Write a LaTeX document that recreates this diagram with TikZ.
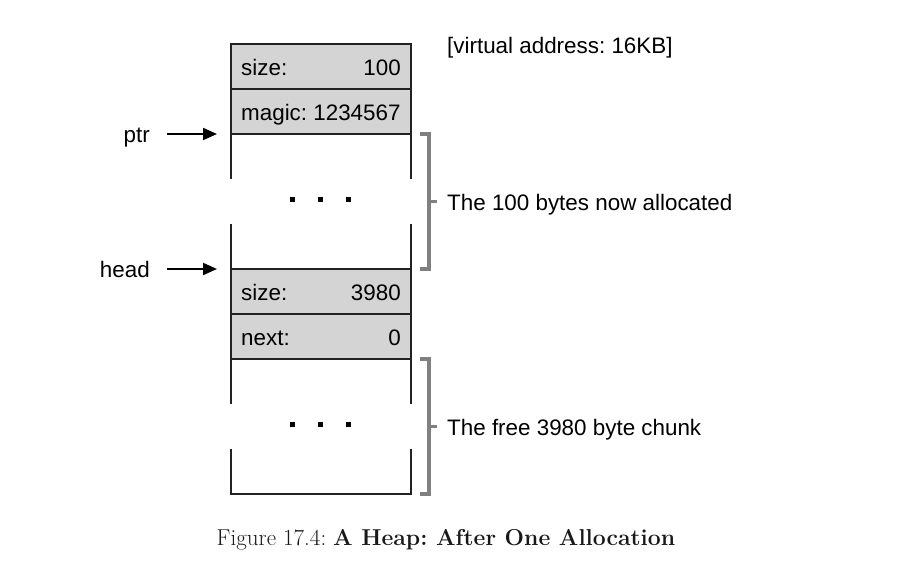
\documentclass[tikz,border=0pt]{standalone}
\usepackage{fontspec}
\setsansfont{Liberation Sans}
\usetikzlibrary{arrows.meta}
\definecolor{cellgray}{HTML}{D4D4D4}
\definecolor{brackgray}{HTML}{808080}
\definecolor{edgegray}{HTML}{222222}
\begin{document}
\frenchspacing
\begin{tikzpicture}[x=1pt,y=-1pt,
  lbl/.style={font=\sffamily\fontsize{22.4}{26}\selectfont\frenchspacing, inner sep=0pt},
  cell/.style={draw=edgegray, line width=1.1pt, fill=cellgray, minimum width=180pt, minimum height=45pt,
     inner sep=0pt, outer sep=0pt, anchor=north west},
  wall/.style={draw=edgegray, line width=1.1pt},
  brace/.style={draw=brackgray, line width=4pt},
  pointer/.style={line width=2pt, -{Triangle[length=14pt,width=12pt]}},
  dot/.style={fill=black, minimum size=5pt, inner sep=0pt, rectangle}
]
\useasboundingbox (0,0) rectangle (906,584);
% top chunk header
\node[cell] (r1) at (231,44) {};
\node[cell] (r2) at (231,89) {};
\node[lbl, anchor=base west] (r1l) at (241,75) {size:};
\node[lbl, anchor=base east] (r1r) at (401,75) {100};
\node[lbl, anchor=base west] (r2l) at (241,120) {magic: 1234567};
% allocated region walls
\coordinate (a1) at (231,179);
\coordinate (a2) at (411,179);
\coordinate (a3) at (231,224);
\coordinate (a4) at (411,224);
% free chunk header
\node[cell] (r3) at (231,269) {};
\node[cell] (r4) at (231,314) {};
\node[lbl, anchor=base west] (r3l) at (241,300) {size:};
\node[lbl, anchor=base east] (r3r) at (401,300) {3980};
\node[lbl, anchor=base west] (r4l) at (241,345) {next:};
\node[lbl, anchor=base east] (r4r) at (401,345) {0};
\coordinate (f1) at (231,404);
\coordinate (f2) at (411,404);
\coordinate (f3) at (231,449);
\coordinate (f4) at (411,449);
\coordinate (fbl) at (231,494);
\coordinate (fbr) at (411,494);
\draw[wall] (r2.south west) -- (a1);
\draw[wall] (r2.south east) -- (a2);
\draw[wall] (a3) -- (r3.north west);
\draw[wall] (a4) -- (r3.north east);
\draw[wall] (r4.south west) -- (f1);
\draw[wall] (r4.south east) -- (f2);
\draw[wall] (f3) -- (fbl) -- (fbr) -- (f4);
% dots
\node[dot] (d1) at (292,199) {};
\node[dot] (d2) at (320,199) {};
\node[dot] (d3) at (348,199) {};
\node[dot] (e1) at (292,424) {};
\node[dot] (e2) at (320,424) {};
\node[dot] (e3) at (348,424) {};
% labels
\node[lbl, anchor=base west] (va) at (447,53) {[virtual address: 16KB]};
\node[lbl, anchor=base east] (ptr) at (150,142) {ptr};
\node[lbl, anchor=base east] (head) at (150,277) {head};
\coordinate (ptrtip) at (217,134);
\coordinate (headtip) at (217,269);
\draw[pointer, shorten <=17pt] (ptr.east |- ptrtip) -- (ptrtip);
\draw[pointer, shorten <=17pt] (head.east |- headtip) -- (headtip);
% brackets
\coordinate (b1t) at (420,134);
\coordinate (b1b) at (420,269);
\draw[brace] (b1t) -- (429,134) -- (429,269) -- (b1b);
\draw[brace, line width=3pt] (429,201) -- (437,201);
\node[lbl, anchor=base west] (alloc) at (447,210) {The 100 bytes now allocated};
\coordinate (b2t) at (420,359);
\coordinate (b2b) at (420,494);
\draw[brace] (b2t) -- (429,359) -- (429,494) -- (b2b);
\draw[brace, line width=3pt] (429,426) -- (437,426);
\node[lbl, anchor=base west] (freel) at (447,435) {The free 3980 byte chunk};
% caption
\node[inner sep=0pt, anchor=base, font=\fontsize{23}{26}\selectfont\frenchspacing, text=black!90] (cap) at (446,545) {Figure 17.4: \textbf{A Heap: After One Allocation}};
\end{tikzpicture}
\end{document}
